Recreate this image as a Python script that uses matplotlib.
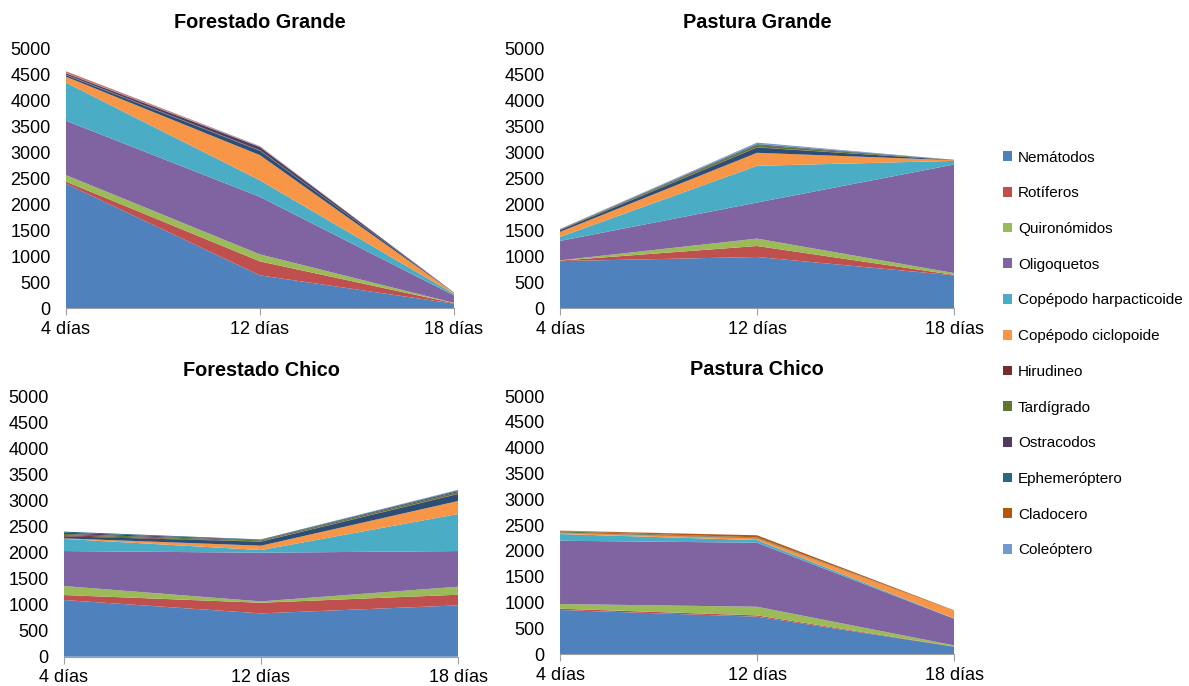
import matplotlib
matplotlib.use('Agg')
import matplotlib.pyplot as plt
from matplotlib.patches import Patch

plt.rcParams['font.family'] = ['Liberation Sans', 'DejaVu Sans']

dias = ['4 días', '12 días', '18 días']

# series in stack order; '' = series drawn but not shown in the legend
grupos = ['Nemátodos', 'Rotíferos', 'Quironómidos', 'Oligoquetos',
          'Copépodo harpacticoide', 'Copépodo ciclopoide', '',
          'Hirudineo', 'Tardígrado', 'Ostracodos', 'Ephemeróptero',
          'Cladocero', 'Coleóptero', '']
colores = ['#4F81BD', '#C0504D', '#9BBB59', '#8064A2', '#4BACC6', '#F79646',
           '#2C4D75', '#772C2A', '#5F7530', '#4D3B62', '#276A7C', '#B65708',
           '#729ACA', '#CD7371']

forestado_grande = [
    [2400, 630, 84], [40, 270, 10], [125, 135, 5], [1050, 1110, 145],
    [735, 320, 30], [115, 485, 20], [30, 85, 3], [5, 5, 0], [5, 5, 0],
    [25, 60, 3], [5, 5, 0], [0, 0, 0], [0, 5, 0], [35, 10, 0]]
pastura_grande = [
    [905, 985, 630], [10, 212, 10], [5, 143, 35], [375, 696, 2095],
    [77, 709, 70], [97, 251, 13], [32, 103, 3], [5, 5, 0], [5, 39, 3],
    [5, 15, 2], [5, 10, 0], [0, 0, 0], [0, 25, 0], [5, 0, 0]]
forestado_chico = [
    [1090, 833, 987], [96, 205, 205], [173, 26, 154], [673, 936, 686],
    [234, 51, 712], [10, 84, 250], [40, 77, 134], [20, 5, 5], [25, 20, 32],
    [25, 10, 20], [20, 9, 15], [0, 0, 0], [0, 0, 10], [0, 0, 0]]
pastura_chico = [
    [853, 724, 142], [26, 25, 5], [90, 168, 21], [1227, 1241, 517],
    [130, 51, 5], [25, 33, 150], [0, 5, 0], [5, 5, 0], [20, 5, 0],
    [5, 5, 0], [0, 0, 0], [8, 40, 8], [0, 0, 0], [5, 0, 0]]

paneles = [
    ('Forestado Grande', forestado_grande, [0.0555, 0.551, 0.3263, 0.3776]),
    ('Pastura Grande', pastura_grande, [0.471, 0.551, 0.3314, 0.3776]),
    ('Forestado Chico', forestado_chico, [0.0538, 0.0427, 0.3314, 0.379]),
    ('Pastura Chico', pastura_chico, [0.471, 0.0466, 0.3314, 0.376]),
]

fig = plt.figure(figsize=(11.89, 6.86), dpi=100)

for titulo, datos, pos in paneles:
    ax = fig.add_axes(pos)
    x = range(len(dias))
    ax.stackplot(x, datos, colors=colores, linewidth=0)
    ax.set_xlim(0, 2)
    ax.set_ylim(0, 5000)
    ax.set_yticks(range(0, 5001, 500))
    ax.set_xticks(list(x))
    ax.set_xticklabels(dias)
    for s in ['top', 'right', 'left']:
        ax.spines[s].set_visible(False)
    ax.spines['bottom'].set_color('#a0a0a0')
    ax.tick_params(axis='y', length=0, pad=11, labelsize=13)
    ax.tick_params(axis='x', length=5, color='#a0a0a0', pad=4, labelsize=13)
    ax.set_title(titulo, fontsize=14.3, fontweight='bold', pad=15)

handles = [Patch(facecolor=c) for g, c in zip(grupos, colores) if g]
labels = [g for g in grupos if g]
fig.legend(handles, labels, loc='upper left',
           bbox_to_anchor=(995 / 1189, 1 - 143 / 686), frameon=False,
           fontsize=11, handlelength=0.6, handleheight=0.6,
           handletextpad=0.4, labelspacing=1.42, borderpad=0)

fig.savefig('out.png', dpi=100)
